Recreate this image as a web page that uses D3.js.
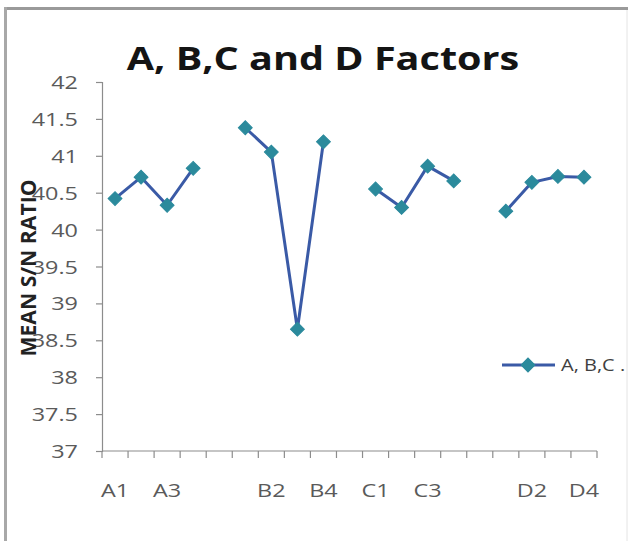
<!DOCTYPE html>
<html>
<head>
<meta charset="utf-8">
<script src="https://cdn.jsdelivr.net/npm/d3@7"></script>
<style>
  html, body { margin: 0; padding: 0; background: #fff; }
  svg { display: block; }
</style>
</head>
<body>
<svg id="chart" width="630" height="541"></svg>
<script>
// Factor levels along the x axis; empty strings are the gaps between factor groups
const categories = ["A1","A2","A3","A4","","B1","B2","B3","B4","","C1","C2","C3","C4","","D1","D2","D3","D4"];
// Mean S/N ratio for each level (null = gap, the line breaks there)
const values = [40.42, 40.71, 40.33, 40.83, null, 41.38, 41.05, 38.65, 41.19, null, 40.55, 40.30, 40.86, 40.66, null, 40.25, 40.64, 40.72, 40.71];
// Y axis tick values
const yTicks = [37, 37.5, 38, 38.5, 39, 39.5, 40, 40.5, 41, 41.5, 42];

const titleText = "A, B,C and D Factors";
const yLabel = "MEAN S/N RATIO";
const legendLabel = "A, B,C .";

const W = 630, H = 541;
const plot = { left: 102, right: 597, top: 82, bottom: 451 };
const stretch = 1.3;          // horizontal stretch applied to text glyphs
const lineColor = "#3a5aa6";
const markerColor = "#2b8a9c";
const axisColor = "#8c8c8c";
const labelColor = "#5a5a5a";
const font = "'Open Sans', 'DejaVu Sans', sans-serif";

const svg = d3.select("#chart");

svg.append("rect").attr("width", W).attr("height", H).attr("fill", "#fff");

// outer frame
svg.append("line").attr("x1", 5).attr("x2", 628).attr("y1", 8.5).attr("y2", 8.5)
  .attr("stroke", "#9a9a9a").attr("stroke-width", 3);
svg.append("line").attr("x1", 5.5).attr("x2", 5.5).attr("y1", 7).attr("y2", H)
  .attr("stroke", "#a8a8a8").attr("stroke-width", 3);
svg.append("line").attr("x1", 627).attr("x2", 627).attr("y1", 10).attr("y2", H)
  .attr("stroke", "#e4e4e4").attr("stroke-width", 1);

const x = d3.scaleBand()
  .domain(d3.range(categories.length))
  .range([plot.left, plot.right])
  .paddingInner(0).paddingOuter(0);

const y = d3.scaleLinear()
  .domain([d3.min(yTicks), d3.max(yTicks)])
  .range([plot.bottom, plot.top]);

const cx = i => x(i) + x.bandwidth() / 2;

// helper: place text and stretch it horizontally around its anchor
function stretchedText(sel, tx, ty, k) {
  sel.attr("x", 0).attr("y", 0)
     .attr("transform", `translate(${tx},${ty}) scale(${k},1)`);
  return sel;
}

// title
stretchedText(
  svg.append("text")
    .attr("text-anchor", "middle")
    .attr("font-family", font)
    .attr("font-weight", "bold")
    .attr("font-size", 33)
    .attr("fill", "#141414")
    .text(titleText),
  323, 70, 1.2);

// y axis
const yAxis = d3.axisLeft(y)
  .tickValues(yTicks)
  .tickSize(6)
  .tickPadding(0)
  .tickFormat(d3.format("~g"));

const gy = svg.append("g")
  .attr("transform", `translate(${plot.left},0)`)
  .call(yAxis);
gy.select(".domain").attr("stroke", axisColor).attr("stroke-width", 1.2);
gy.selectAll(".tick line").attr("stroke", axisColor).attr("stroke-width", 1.2);
gy.selectAll(".tick text").each(function(d) {
  const t = d3.select(this);
  t.attr("font-family", font).attr("font-size", 18).attr("fill", labelColor)
   .attr("text-anchor", "end").attr("dy", null).attr("dominant-baseline", null);
  t.attr("x", 0).attr("y", 0).attr("transform", `translate(-24,6.5) scale(${stretch},1)`);
});

// x axis: line, ticks at category boundaries, labels on every other level
svg.append("line")
  .attr("x1", plot.left).attr("x2", plot.right)
  .attr("y1", plot.bottom).attr("y2", plot.bottom)
  .attr("stroke", axisColor).attr("stroke-width", 1.2);

const boundaries = d3.range(categories.length).map(i => x(i)).concat([x.range()[1]]);
svg.append("g").selectAll("line")
  .data(boundaries)
  .join("line")
  .attr("x1", d => d).attr("x2", d => d)
  .attr("y1", plot.bottom).attr("y2", plot.bottom + 7)
  .attr("stroke", axisColor).attr("stroke-width", 1.2);

svg.append("g").selectAll("text")
  .data(d3.range(categories.length).filter(i => i % 2 === 0 && categories[i] !== ""))
  .join("text")
  .attr("text-anchor", "middle")
  .attr("font-family", font)
  .attr("font-size", 18)
  .attr("fill", labelColor)
  .text(i => categories[i])
  .each(function(i) {
    stretchedText(d3.select(this), cx(i), 497, stretch);
  });

// y axis title
svg.append("text")
  .attr("text-anchor", "middle")
  .attr("font-family", font)
  .attr("font-weight", "bold")
  .attr("font-size", 16)
  .attr("fill", "#222")
  .attr("textLength", 177)
  .attr("lengthAdjust", "spacingAndGlyphs")
  .attr("transform", `translate(36,268) scale(1.3,1) rotate(-90)`)
  .text(yLabel);

// series line
const line = d3.line()
  .defined(d => d != null)
  .x((d, i) => cx(i))
  .y(d => y(d));

svg.append("path")
  .datum(values)
  .attr("fill", "none")
  .attr("stroke", lineColor)
  .attr("stroke-width", 3)
  .attr("stroke-linejoin", "round")
  .attr("d", line);

// diamond markers
const diamond = d3.symbol().type(d3.symbolSquare).size(96);
svg.append("g").selectAll("path")
  .data(values.map((v, i) => ({ v, i })).filter(d => d.v != null))
  .join("path")
  .attr("d", diamond)
  .attr("transform", d => `translate(${cx(d.i)},${y(d.v)}) rotate(45)`)
  .attr("fill", markerColor)
  .attr("stroke", markerColor)
  .attr("stroke-width", 1);

// legend
const lg = svg.append("g");
lg.append("line")
  .attr("x1", 502).attr("x2", 555).attr("y1", 365).attr("y2", 365)
  .attr("stroke", lineColor).attr("stroke-width", 3);
lg.append("path")
  .attr("d", diamond)
  .attr("transform", "translate(528,365) rotate(45)")
  .attr("fill", markerColor).attr("stroke", markerColor).attr("stroke-width", 1);
stretchedText(
  lg.append("text")
    .attr("font-family", font)
    .attr("font-size", 16)
    .attr("fill", "#404040")
    .text(legendLabel),
  561, 371, 1.25);
</script>
</body>
</html>
